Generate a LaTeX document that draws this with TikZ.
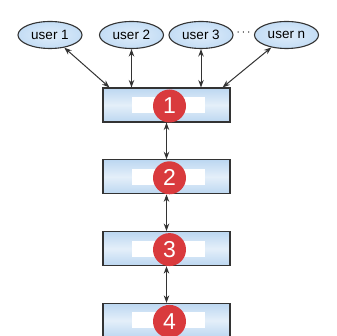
\documentclass[tikz,border=0pt]{standalone}
\usepackage{fontspec}
\setmainfont{Liberation Sans}
\usetikzlibrary{positioning,arrows.meta,shapes.geometric}
\definecolor{userblue}{HTML}{C4DDF5}
\definecolor{layerblue}{HTML}{BCD7F1}
\definecolor{dotred}{HTML}{D93A3D}
\definecolor{edgegray}{HTML}{333333}
\tikzset{user/.style={ellipse, draw=edgegray, line width=1.1pt,
      inner color=userblue!55, outer color=userblue,
      minimum width=64pt, minimum height=27pt, inner sep=0pt,
      font=\fontsize{13.5}{15}\selectfont}}
\tikzset{layer/.style={rectangle, draw=edgegray, line width=1.1pt,
      top color=layerblue, bottom color=layerblue, middle color=layerblue!40,
      minimum width=127pt, minimum height=34pt, inner sep=0pt,
      path picture={\fill[white] ([xshift=-34.5pt,yshift=-8pt]path picture bounding box.center)
        rectangle ([xshift=38.5pt,yshift=8pt]path picture bounding box.center);}}}
\tikzset{num/.style={circle, fill=dotred, text=white, minimum size=33pt, inner sep=0pt,
      font=\fontsize{23}{26}\selectfont}}
\tikzset{link/.style={{Stealth[length=7.5pt,width=5.5pt]}-{Stealth[length=7.5pt,width=5.5pt]},
      draw=edgegray, line width=1pt}}

\begin{document}
\begin{tikzpicture}[x=1pt,y=-1pt]
  \useasboundingbox (0,0) rectangle (337,336);
  % users
  \node[user] (u1) at (50,35) {user 1};
  \node[user] (u2) at (131.5,35) {user 2};
  \node[user] (u3) at (201,35) {user 3};
  \node[user] (un) at (286.5,35) {user n};
  \node[font=\large] (dots) at (243.5,33) {$\cdots$};
  % layers
  \node[layer] (b1) at (166.5,105) {};
  \node[layer, below=36.7pt of b1] (b2) {};
  \node[layer, below=36.7pt of b2] (b3) {};
  \node[layer, below=36.7pt of b3] (b4) {};
  \foreach \i in {1,...,4}
    \node[num] (n\i) at ([xshift=3pt,yshift=-1pt]b\i.center) {\i};
  % connections
  \draw[link] (u1) -- ([xshift=7pt]b1.north west);
  \draw[link] (u2) -- (u2 |- b1.north);
  \draw[link] (u3) -- (u3 |- b1.north);
  \draw[link] (un) -- ([xshift=-8pt]b1.north east);
  \draw[link] (b1) -- (b2);
  \draw[link] (b2) -- (b3);
  \draw[link] (b3) -- (b4);
\end{tikzpicture}
\end{document}
